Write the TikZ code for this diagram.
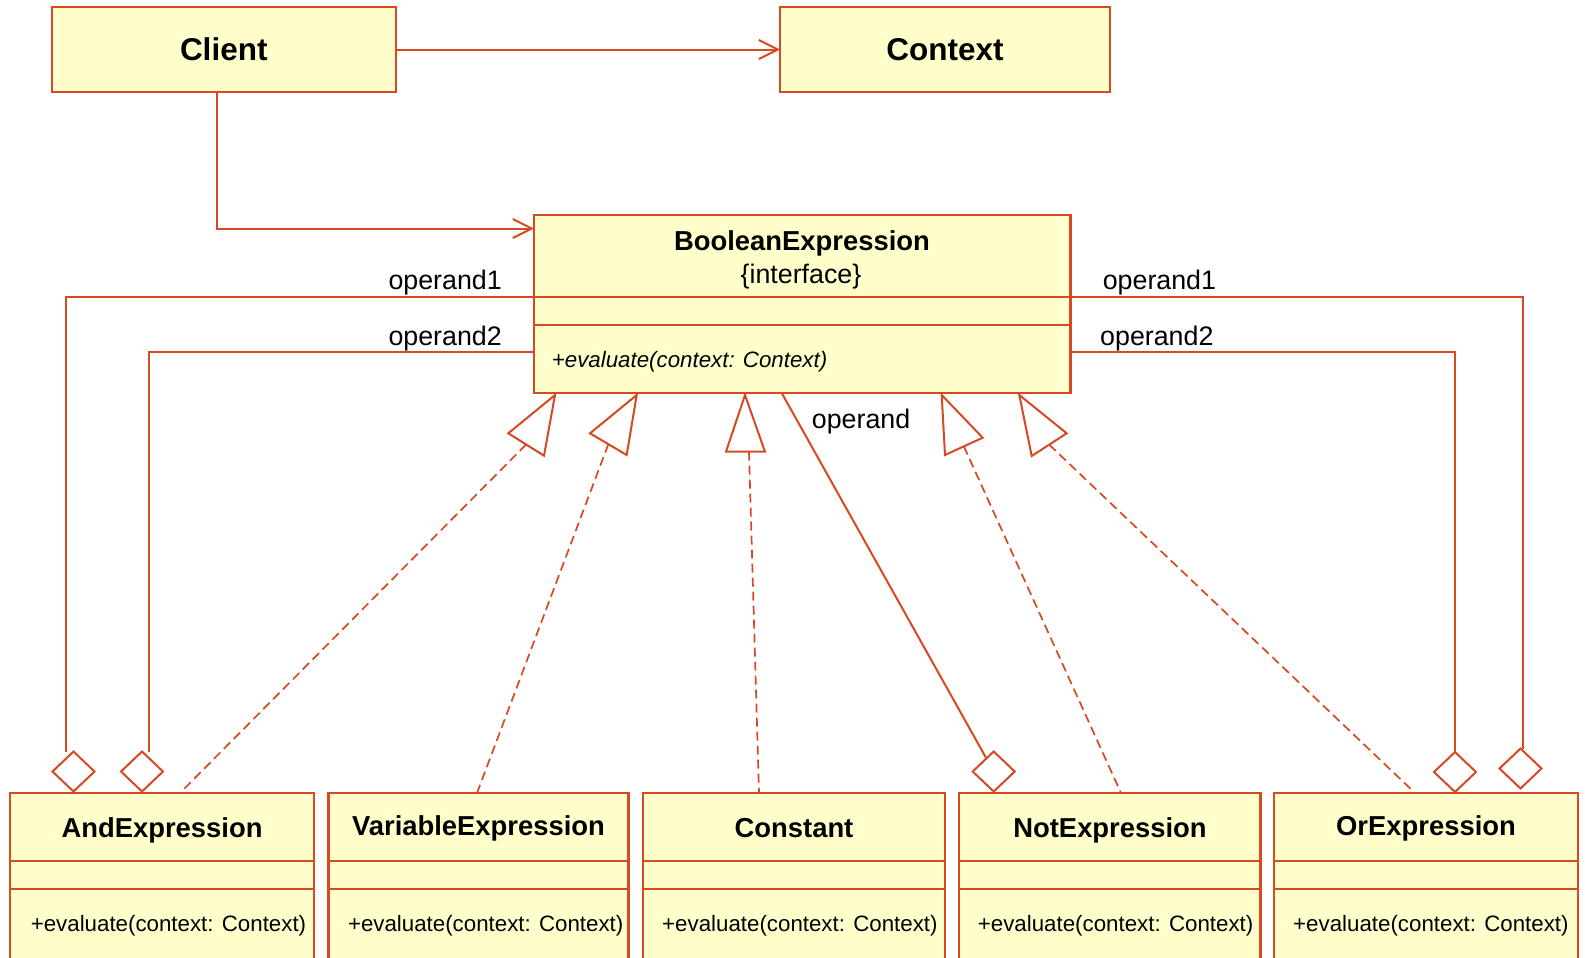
\documentclass[tikz,border=0pt]{standalone}
\usepackage{fontspec}
\setmainfont{Liberation Sans}
\usetikzlibrary{arrows.meta,shapes.geometric,calc}
\definecolor{umlline}{RGB}{214,74,34}
\definecolor{umlfill}{RGB}{255,255,204}
\begin{document}
\begin{tikzpicture}[x=1bp, y=-1bp,
  classbox/.style={rectangle, draw=umlline, fill=umlfill, line width=2.3bp, inner sep=0pt, outer sep=0pt},
  sepline/.style={draw=umlline, line width=2.3bp},
  topname/.style={font=\fontsize{31.5bp}{36bp}\selectfont\bfseries},
  clsname/.style={font=\fontsize{27.4bp}{32bp}\selectfont\bfseries, inner sep=0pt},
  clsnote/.style={font=\fontsize{26.8bp}{32bp}\selectfont, inner sep=0pt},
  clsop/.style={font=\fontsize{22.3bp}{27bp}\selectfont, inner sep=0pt, anchor=west},
  clsopit/.style={font=\fontsize{22.3bp}{27bp}\selectfont\itshape, inner sep=0pt, anchor=west},
  role/.style={font=\fontsize{26.8bp}{32bp}\selectfont, inner sep=0pt},
  assoc/.style={draw=umlline, line width=2bp},
  navassoc/.style={assoc, -{Straight Barb[length=19bp, width=19bp]}},
  realize/.style={draw=umlline, line width=1.7bp, dash pattern=on 9bp off 5bp},
  genhead/.style={draw=umlline, fill=white, line width=2bp, line join=miter},
  aggr/.style={diamond, draw=umlline, fill=white, line width=2bp, inner sep=0pt, outer sep=0pt, minimum width=42bp, minimum height=40bp},
]
\useasboundingbox (0,0) rectangle (1585,957);
\clip (0,0) rectangle (1585,957);
\fill[white] (0,0) rectangle (1585,957);

% ---- top row ----
\node[classbox, topname, minimum width=344bp, minimum height=84.4bp] (client) at (223.75,49.5) {Client};
\node[classbox, topname, minimum width=330bp, minimum height=84.4bp] (context) at (945,49.5) {Context};

% ---- interface ----
\node[classbox, anchor=north west, minimum width=536.5bp, minimum height=178bp] (be) at (534,215) {};
\draw[sepline] (be.north west) ++(0,82) -- ++(536.5,0);
\draw[sepline] (be.north west) ++(0,110) -- ++(536.5,0);
\node[clsname] (beName) at (802,243.5) {BooleanExpression};
\node[clsnote] (beStereo) at (801,277) {\{interface\}};
\node[clsopit] (beOp) at (551.7,362) {+evaluate(context: Context)};

% ---- concrete classes ----
\foreach \n/\x/\w/\cls/\tx/\ty/\mx in {
  andBox/10/304/AndExpression/162/830.5/30.6,
  varBox/328.6/299.9/VariableExpression/478.5/828/347.8,
  constBox/643/302/Constant/794/828/662,
  notBox/959/301.6/NotExpression/1110/830.5/977.7,
  orBox/1274/304/OrExpression/1426/828/1293}
{
  \node[classbox, anchor=north west, minimum width=\w bp, minimum height=190bp] (\n) at (\x,793) {};
  \draw[sepline] (\n.north west) ++(0,68) -- ++(\w,0);
  \draw[sepline] (\n.north west) ++(0,96) -- ++(\w,0);
  \node[clsname] (\n-name) at (\tx,\ty) {\cls};
  \node[clsop] (\n-op) at (\mx,925.5) {+evaluate(context: Context)};
}

% ---- navigable associations ----
\draw[navassoc] (client.east) -- (context.west);
\coordinate (cBend) at (216.8,228.5);
\draw[navassoc] (client.south -| cBend) |- (be.west |- cBend);

% ---- aggregation diamonds ----
\node[aggr] (dAnd1) at (73.5,771.5) {};
\node[aggr] (dAnd2) at (142,771.5) {};
\node[aggr] (dNot) at (993.7,771.5) {};
\node[aggr] (dOr1) at (1455,772) {};
\node[aggr] (dOr2) at (1520.5,768.5) {};

% ---- operand associations ----
\coordinate (o1L) at (66,297);
\coordinate (o2L) at (149,352);
\coordinate (o1R) at (1522.7,297);
\coordinate (o2R) at (1455,352);
\coordinate (opS) at (781.7,393);
\draw[assoc] (be.west |- o1L) -| (o1L |- dAnd1.north);
\draw[assoc] (be.west |- o2L) -| (o2L |- dAnd2.north);
\draw[assoc] (be.east |- o1R) -| (o1R |- dOr2.north);
\draw[assoc] (be.east |- o2R) -| (o2R |- dOr1.north);
\draw[assoc] (opS) -- (dNot);

\node[role, anchor=east] (lO1) at (502,283) {operand1};
\node[role, anchor=east] (lO2) at (502,339) {operand2};
\node[role, anchor=west] (rO1) at (1102.6,283) {operand1};
\node[role, anchor=west] (rO2) at (1100,339) {operand2};
\node[role, anchor=west] (nOp) at (811.7,422) {operand};

% ---- realizations of the interface ----
\coordinate (andR) at (180,793);
\coordinate (varR) at (477,793);
\coordinate (constR) at (759,793);
\coordinate (notR) at (1121,793);
\coordinate (orR) at (1415,793);

\coordinate (t1a) at (555,395);    \coordinate (t1b) at (508.3,433.3); \coordinate (t1c) at (544,455.7);
\coordinate (t2a) at (636.7,395);  \coordinate (t2b) at (590,433.3);   \coordinate (t2c) at (626.7,455);
\coordinate (t3a) at (745,395);    \coordinate (t3b) at (726,451.7);   \coordinate (t3c) at (765,451.7);
\coordinate (t4a) at (941.7,395);  \coordinate (t4b) at (982.7,437.7); \coordinate (t4c) at (945,455);
\coordinate (t5a) at (1019.3,395); \coordinate (t5b) at (1066.7,433.3); \coordinate (t5c) at (1031.7,456);

\draw[realize] ($(t1b)!.5!(t1c)$) -- (andR);
\draw[realize] ($(t2b)!.5!(t2c)$) -- (varR);
\draw[realize] (749,451.7) -- (constR);
\draw[realize] ($(t4b)!.5!(t4c)$) -- (notR);
\draw[realize] ($(t5b)!.5!(t5c)$) -- (orR);

\foreach \t in {t1,t2,t3,t4,t5}
  \draw[genhead] (\t a) -- (\t b) -- (\t c) -- cycle;
\end{tikzpicture}
\end{document}
